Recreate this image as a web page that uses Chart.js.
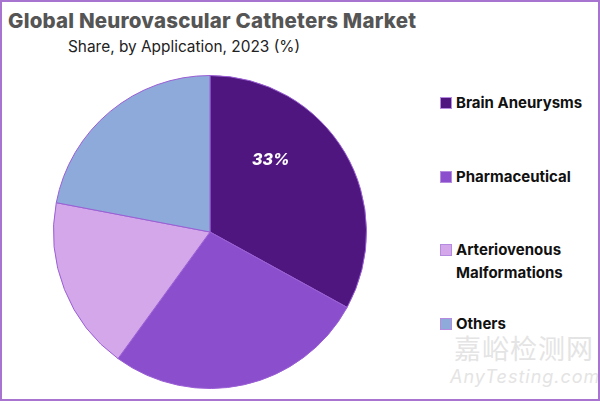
<!DOCTYPE html>
<html>
<head>
<meta charset="utf-8">
<script src="https://cdn.jsdelivr.net/npm/chart.js@4"></script>
<style>
  html, body { margin: 0; padding: 0; background: #fff; }
  #frame {
    position: relative; width: 596px; height: 397px;
    border: 2px solid #a774d0; margin: 0; overflow: hidden;
    font-family: Inter, "Noto Sans", sans-serif;
  }
  #title { position: absolute; left: 6px; top: 6px; font-size: 20.5px; font-weight: 800; color: #555; letter-spacing: 0.2px; }
  #subtitle { position: absolute; left: 66px; top: 35px; font-size: 15.4px; color: #222; }
  #pieBox { position: absolute; left: 51px; top: 73px; width: 314px; height: 314px; }
  #legend { position: absolute; left: 438px; top: 0; }
  .item { position: absolute; left: 0; width: 160px; font-size: 15px; font-weight: 700; color: #111; line-height: 23px; }
  .box { position: absolute; left: 0; top: 6px; width: 10px; height: 10px; border: 1px solid #b58be0; }
  .txt { position: absolute; left: 16px; top: 0; white-space: nowrap; }
  #wm1 { position: absolute; left: 452px; top: 326px; font-family: "Noto Sans CJK SC"; font-size: 27px; color: #e4e4e4; letter-spacing: 1px; }
  #wm2 { position: absolute; left: 448px; top: 364px; font-size: 18px; font-style: italic; color: #e4e4e4; letter-spacing: 1px; }
</style>
</head>
<body>
<div id="frame">
  <div id="title">Global Neurovascular Catheters Market</div>
  <div id="subtitle">Share, by Application, 2023 (%)</div>
  <div id="pieBox"><canvas id="pie"></canvas></div>
  <div id="legend"></div>
  <div id="wm1">嘉峪检测网</div>
  <div id="wm2">AnyTesting.com</div>
</div>
<script>
const categories = ['Brain Aneurysms', 'Pharmaceutical', 'Arteriovenous Malformations', 'Others'];
const legendLines = [['Brain Aneurysms'], ['Pharmaceutical'], ['Arteriovenous', 'Malformations'], ['Others']];
const shares = [33, 27, 18, 22];
const labelShown = ['33%', '', '', ''];
const colors = ['#4f1680', '#8b4fcd', '#d4a7ea', '#8eaadb'];

// legend
const legendTops = [89, 163, 236, 310];
const legend = document.getElementById('legend');
categories.forEach((c, i) => {
  const d = document.createElement('div');
  d.className = 'item';
  d.style.top = legendTops[i] + 'px';
  d.innerHTML = '<span class="box" style="background:' + colors[i] + '"></span><span class="txt">' + legendLines[i].join('<br>') + '</span>';
  legend.appendChild(d);
});

// label on the slice
const sliceLabel = {
  id: 'sliceLabel',
  afterDatasetsDraw(chart) {
    const ctx = chart.ctx;
    chart.getDatasetMeta(0).data.forEach((arc, i) => {
      if (!labelShown[i]) return;
      const a = arc.startAngle + (arc.endAngle - arc.startAngle) * 0.34;
      const r = arc.outerRadius * 0.6;
      ctx.save();
      ctx.fillStyle = '#fff';
      ctx.font = 'italic 800 16px Inter, sans-serif';
      ctx.textAlign = 'center';
      ctx.textBaseline = 'middle';
      ctx.fillText(labelShown[i], arc.x + Math.cos(a) * r, arc.y + Math.sin(a) * r);
      ctx.restore();
    });
  }
};

new Chart(document.getElementById('pie'), {
  type: 'pie',
  data: {
    labels: categories,
    datasets: [{
      data: shares,
      backgroundColor: colors,
      borderColor: '#9a5fd4',
      borderWidth: 1
    }]
  },
  options: {
    responsive: true,
    maintainAspectRatio: false,
    animation: false,
    layout: { padding: 0 },
    plugins: { legend: { display: false }, tooltip: { enabled: false } }
  },
  plugins: [sliceLabel]
});
</script>
</body>
</html>
